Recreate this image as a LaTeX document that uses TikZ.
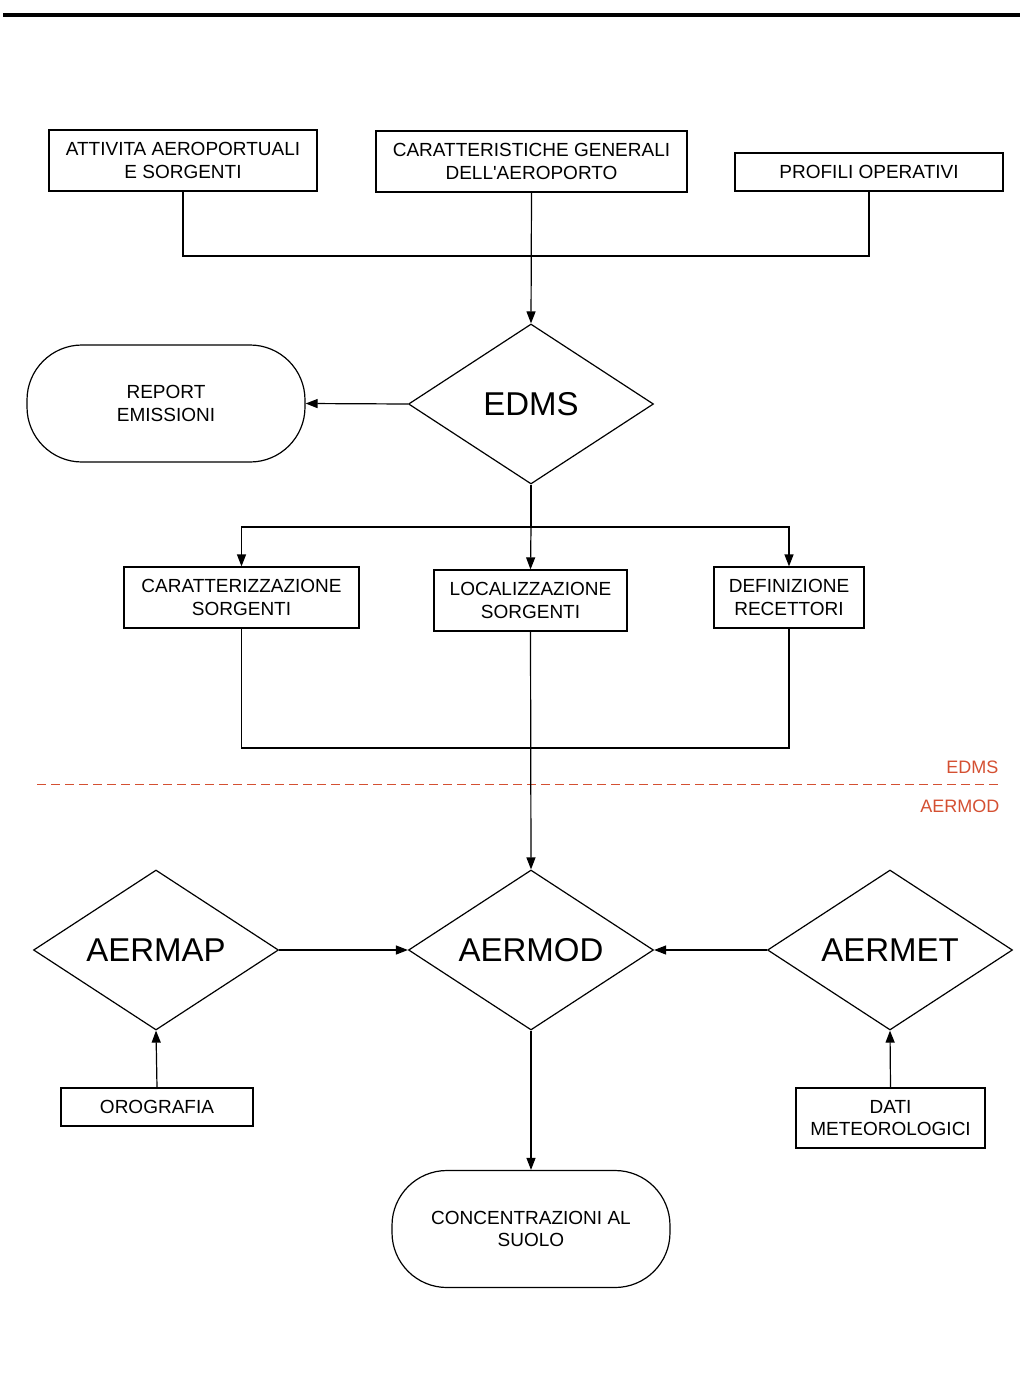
\documentclass[tikz,border=0pt]{standalone}
\usepackage{fontspec}
\setmainfont{Liberation Sans}[Ligatures=TeXOff]
\usetikzlibrary{shapes.geometric, arrows.meta, positioning}
\definecolor{zonered}{RGB}{212, 80, 50}
\begin{document}
\begin{tikzpicture}[x=1pt, y=-1pt,
        block/.style={rectangle, draw=black, line width=1.2pt, align=center, inner sep=0pt, font=\fontsize{19}{22.5}\selectfont},
        decision/.style={diamond, draw=black, line width=1.2pt, aspect=1.53, minimum width=245pt, minimum height=160pt, inner sep=0pt, font=\fontsize{33}{36}\selectfont},
        terminal/.style={rectangle, rounded corners=55pt, draw=black, line width=1.2pt, minimum width=278pt, minimum height=117pt, align=center, font=\fontsize{19}{22.5}\selectfont},
        arrow/.style={-{Triangle[length=12pt, width=9pt]}, line width=1.2pt},
        link/.style={line width=1.2pt},
        zonelabel/.style={anchor=east, text=zonered, font=\fontsize{18}{20}\selectfont}
    ]
    \useasboundingbox (0,0) rectangle (1020,1381);
    \draw[line width=4.5pt] (3,15) -- (1020,15);

    % input data
    \node[block, minimum width=268pt, minimum height=61pt] (attivita) at (183,160.5) {ATTIVITA AEROPORTUALI\\E SORGENTI};
    \node[block, minimum width=311pt, minimum height=61pt] (generali) at (531.5,161.5) {CARATTERISTICHE GENERALI\\DELL'AEROPORTO};
    \node[block, minimum width=268pt, minimum height=38pt] (profili) at (869,172) {PROFILI OPERATIVI};

    \node[decision] (edms) at (531,404) {EDMS};
    \node[terminal] (report) at (166,403.5) {REPORT\\EMISSIONI};

    \node[block, minimum width=235pt, minimum height=61pt] (caratt) at (241.5,597.5) {CARATTERIZZAZIONE\\SORGENTI};
    \node[block, minimum width=193pt, minimum height=61pt] (localiz) at (530.5,600.5) {LOCALIZZAZIONE\\SORGENTI};
    \node[block, minimum width=150pt, minimum height=61pt] (recett) at (789,597.5) {DEFINIZIONE\\RECETTORI};

    \coordinate (topjoin) at (531,256);
    \coordinate (split) at (531,527);
    \coordinate (merge) at (531,748);

    \draw[link] (attivita.south) |- (topjoin) -| (profili.south);
    \draw[arrow] (generali.south) -- (edms.north);
    \draw[arrow] (edms.west) -- (report.east);
    \draw[link] (edms.south) -- (split);
    \draw[arrow] (split) -| (caratt.north);
    \draw[arrow] (split) -| (recett.north);
    \draw[arrow] (split) -- (localiz.north);
    \draw[link] (caratt.south) |- (merge) -| (recett.south);

    % boundary between the two models
    \draw[zonered, line width=1pt, dash pattern=on 9pt off 5pt] (37,784) -- (1000,784);
    \node[zonelabel] (edmslabel) at (1002,767) {EDMS};
    \node[zonelabel] (aermodlabel) at (1003,806) {AERMOD};

    \node[decision] (aermod) at (531,950) {AERMOD};
    \node[decision] (aermap) at (156,950) {AERMAP};
    \node[decision] (aermet) at (890,950) {AERMET};

    \node[block, minimum width=192pt, minimum height=38pt] (orografia) at (157,1107) {OROGRAFIA};
    \node[block, minimum width=189pt, minimum height=60pt] (meteo) at (890.5,1118) {DATI\\METEOROLOGICI};
    \node[terminal] (suolo) at (531,1229) {CONCENTRAZIONI AL\\SUOLO};

    \draw[arrow] (localiz.south) -- (aermod.north);
    \draw[arrow] (aermap.east) -- (aermod.west);
    \draw[arrow] (aermet.west) -- (aermod.east);
    \draw[arrow] (orografia.north) -- (aermap.south);
    \draw[arrow] (meteo.north) -- (aermet.south);
    \draw[arrow] (aermod.south) -- (suolo.north);
\end{tikzpicture}
\end{document}
